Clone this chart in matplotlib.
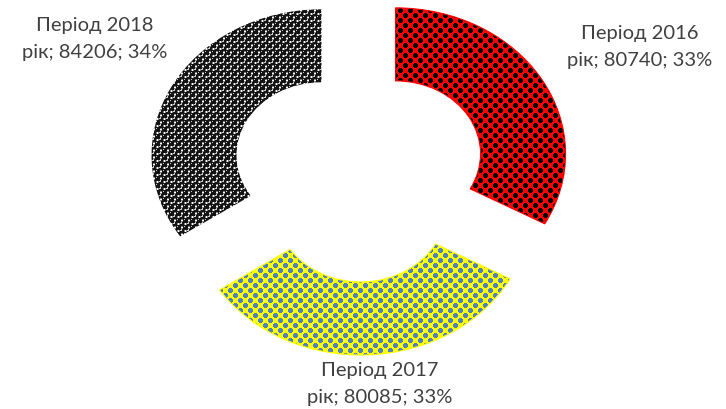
import numpy as np
import matplotlib
matplotlib.use('Agg')
import matplotlib.pyplot as plt

# Обсяги за періодами
periods = ['Період 2016', 'Період 2017', 'Період 2018']
values = [80740, 80085, 84206]

W, H = 726, 409
# centre of the ring in pixels and pixel size of one radius unit
CX, CY = 359, 172.5
SX, SY = 170, 146


def dot_texture(bg, fg, period=10, r=2.3):
    # staggered blobs: one at the cell corner, one at the cell centre
    yy, xx = np.mgrid[0:H, 0:W]
    img = np.empty((H, W, 3))
    img[:] = matplotlib.colors.to_rgb(bg)
    for ox, oy in [(0, 0), (period // 2, period // 2)]:
        dx = ((xx - ox + period // 2) % period) - period // 2
        dy = ((yy - oy + period // 2) % period) - period // 2
        img[dx ** 2 + dy ** 2 <= r ** 2] = matplotlib.colors.to_rgb(fg)
    return img


def ball_texture(period=7, r=2.3):
    yy, xx = np.mgrid[0:H, 0:W] + 0.5
    img = np.ones((H, W, 3))
    for ox, oy in [(0, 0), (period / 2, period / 2)]:
        dx = ((xx - ox) % period) - period / 2
        dy = ((yy - oy) % period) - period / 2
        d = np.hypot(dx, dy)
        img[d < r + 0.5] = 0.5
        img[d < r] = 0.08
        # small highlight on each ball
        hl = np.hypot(dx + 0.8, dy + 0.8) < 0.8
        img[hl] = 0.8
    return img


def plot_ring():
    fig = plt.figure(figsize=(W / 100, H / 100), dpi=100)
    ax = fig.add_axes([0, 0, 1, 1])
    ax.axis('off')

    wedges, _ = ax.pie(values, startangle=90, counterclock=False, radius=1,
                       explode=[0.25] * len(values),
                       wedgeprops=dict(width=0.5, facecolor='none', edgecolor='none'))

    xlim = (-CX / SX, (W - CX) / SX)
    ylim = (-(H - CY) / SY, CY / SY)
    extent = (xlim[0], xlim[1], ylim[0], ylim[1])

    textures = [dot_texture('#ff0000', '#000000'),
                dot_texture('#ffff00', '#4f81bd'),
                ball_texture()]
    edges = ['#ff0000', '#ffff00', 'none']
    for wedge, tex, ec in zip(wedges, textures, edges):
        im = ax.imshow(tex, extent=extent, origin='upper', interpolation='nearest', zorder=1)
        im.set_clip_path(wedge)
        wedge.set_edgecolor(ec)
        wedge.set_linewidth(0.8)
        wedge.set_zorder(2)

    ax.set_aspect('auto')
    ax.set_xlim(*xlim)
    ax.set_ylim(*ylim)

    total = sum(values)
    # label anchors: centre x, first and second baselines (pixels from the top)
    label_pos = [(640, 39, 66), (380, 376, 403), (95, 31, 58)]
    for period, value, (x, y1, y2) in zip(periods, values, label_pos):
        share = round(100 * value / total)
        for txt, y in [(period, y1), (f'рік; {value}; {share}%', y2)]:
            fig.text(x / W, 1 - y / H, txt, ha='center', va='baseline',
                     fontsize=14.5, family=['Lato', 'DejaVu Sans'], color='#404040')

    fig.savefig('out.png', dpi=100)


if __name__ == '__main__':
    plot_ring()
